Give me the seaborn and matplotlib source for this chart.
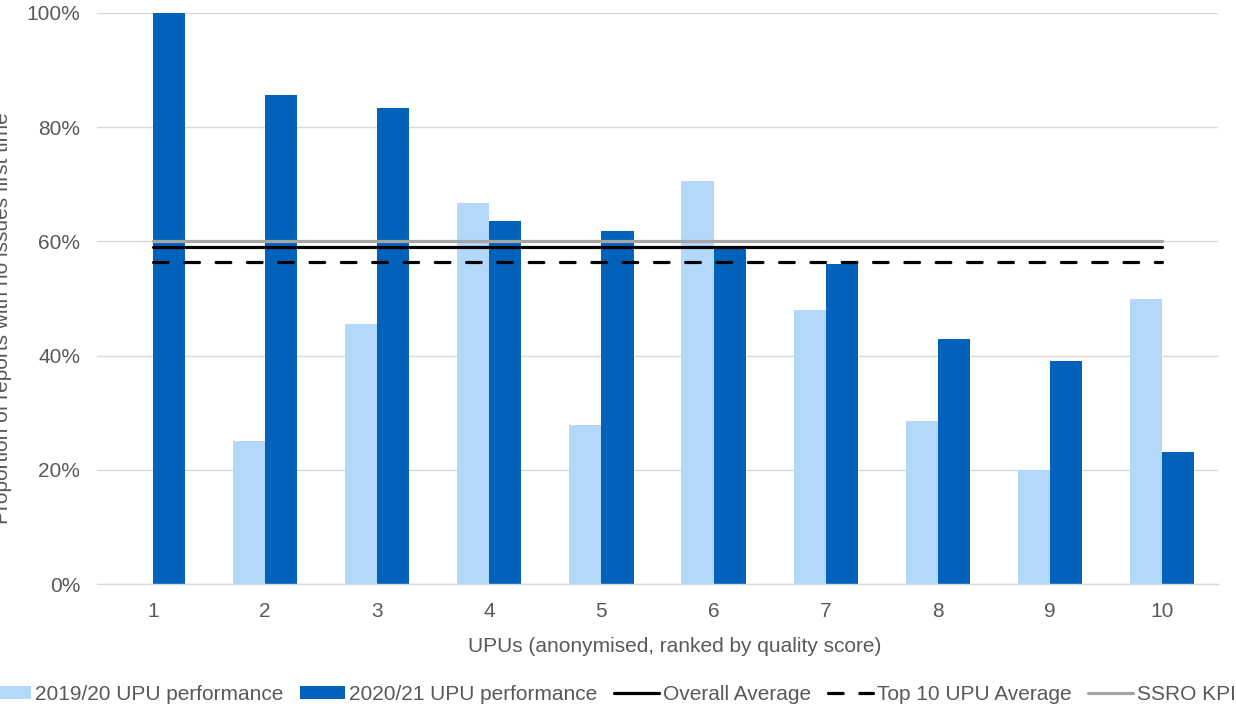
import matplotlib
matplotlib.use("Agg")
import matplotlib.pyplot as plt
from matplotlib.lines import Line2D
from matplotlib.patches import Patch
from matplotlib.ticker import PercentFormatter
import seaborn as sns
import pandas as pd

# UPUs ranked by quality score (anonymised)
upus = ["1", "2", "3", "4", "5", "6", "7", "8", "9", "10"]
perf_2019_20 = [0.0, 0.25, 0.455, 0.667, 0.278, 0.706, 0.48, 0.286, 0.20, 0.50]
perf_2020_21 = [1.0, 0.857, 0.833, 0.636, 0.619, 0.59, 0.56, 0.429, 0.391, 0.231]
series_names = ["2019/20 UPU performance", "2020/21 UPU performance"]

overall_average = 0.59
top10_average = 0.564
ssro_kpi = 0.60

light_blue = "#B4D8FC"
dark_blue = "#0062BB"
text_grey = "#595959"
grid_grey = "#D9D9D9"

sns.set_theme(style="white")
plt.rcParams["font.family"] = ["Liberation Sans", "DejaVu Sans"]

df = pd.DataFrame({
    "UPU": upus * 2,
    "value": perf_2019_20 + perf_2020_21,
    "series": [series_names[0]] * len(upus) + [series_names[1]] * len(upus),
})

fig = plt.figure(figsize=(12.36, 7.04), dpi=100)
ax = fig.add_axes([97 / 1236, 1 - 584 / 704, (1218 - 97) / 1236, (584 - 13) / 704])

sns.barplot(data=df, x="UPU", y="value", hue="series", order=upus,
            hue_order=series_names, palette=[light_blue, dark_blue],
            width=0.572, gap=0, saturation=1, errorbar=None, linewidth=0,
            ax=ax, legend=False)

xs = list(range(len(upus)))
lines = pd.DataFrame({
    "x": xs * 3,
    "value": [ssro_kpi] * len(xs) + [overall_average] * len(xs) + [top10_average] * len(xs),
    "line": ["SSRO KPI"] * len(xs) + ["Overall Average"] * len(xs) + ["Top 10 UPU Average"] * len(xs),
})
dash = (0, (4.6, 5.2))
sns.lineplot(data=lines[lines.line == "SSRO KPI"], x="x", y="value",
             color="#A5A5A5", lw=2.3, ax=ax, legend=False)
sns.lineplot(data=lines[lines.line == "Overall Average"], x="x", y="value",
             color="black", lw=2.3, ax=ax, legend=False)
sns.lineplot(data=lines[lines.line == "Top 10 UPU Average"], x="x", y="value",
             color="black", lw=2.3, ax=ax, legend=False,
             linestyle=dash, dash_capstyle="round")

ax.set_xlim(-0.5, len(upus) - 0.5)
ax.set_ylim(0, 1.0)
ax.set_yticks([0, 0.2, 0.4, 0.6, 0.8, 1.0])
ax.yaxis.set_major_formatter(PercentFormatter(1.0, decimals=0))
ax.grid(axis="y", color=grid_grey, lw=1.0)
ax.set_axisbelow(True)
for side in ["left", "right", "top"]:
    ax.spines[side].set_visible(False)
ax.spines["bottom"].set_color(grid_grey)
ax.spines["bottom"].set_linewidth(1.0)
ax.tick_params(axis="both", length=0, labelsize=15, colors=text_grey)
ax.tick_params(axis="y", pad=12)
ax.tick_params(axis="x", pad=13)

ax.set_xlabel("UPUs (anonymised, ranked by quality score)", fontsize=15,
              color=text_grey)
ax.xaxis.set_label_coords((675 - 97) / 1121, -(647 - 584) / 571)
ax.xaxis.label.set_va("center")
ax.set_ylabel("")
fig.text(3 / 1236, 1 - 318 / 704, "Proportion of reports with no issues first time",
         rotation=90, ha="center", va="center", fontsize=15, color=text_grey)

handles = [
    Patch(facecolor=light_blue, edgecolor="none"),
    Patch(facecolor=dark_blue, edgecolor="none"),
    Line2D([], [], color="black", lw=2.3),
    Line2D([], [], color="black", lw=2.3, linestyle=dash, dash_capstyle="round"),
    Line2D([], [], color="#A5A5A5", lw=2.3),
]
labels = series_names + ["Overall Average", "Top 10 UPU Average", "SSRO KPI"]
leg = fig.legend(handles, labels, loc="center", bbox_to_anchor=(611 / 1236, 1 - 694 / 704),
                 ncol=5, frameon=False, fontsize=15, handlelength=2.15,
                 handletextpad=0.2, columnspacing=0.8, handleheight=0.6,
                 borderpad=0, borderaxespad=0)
for t in leg.get_texts():
    t.set_color(text_grey)

fig.savefig("out.png", dpi=100)
